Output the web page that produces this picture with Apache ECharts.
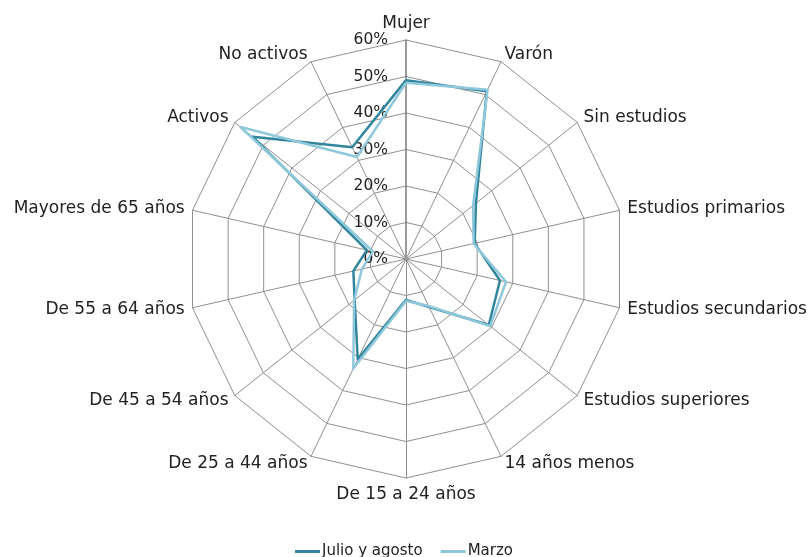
<!DOCTYPE html>
<html>
<head>
<meta charset="utf-8">
<script src="https://cdn.jsdelivr.net/npm/echarts@6/dist/echarts.min.js"></script>
<style>
  html, body { margin: 0; padding: 0; background: #fff; }
  #radar { width: 808px; height: 557px; }
</style>
</head>
<body>
<div id="radar"></div>
<script>
// categories, clockwise from the top
const categories = ['Mujer', 'Varón', 'Sin estudios', 'Estudios primarios', 'Estudios secundarios',
  'Estudios superiores', '14 años menos', 'De 15 a 24 años', 'De 25 a 44 años', 'De 45 a 54 años',
  'De 55 a 64 años', 'Mayores de 65 años', 'Activos', 'No activos']
const julioAgosto = [49, 51, 24.5, 19.3, 26.4, 29, 14.6, 11.2, 30.5, 18, 14.8, 11, 53.7, 34]
const marzo = [48.3, 51.5, 23.5, 19, 28.1, 29.5, 14.3, 11.5, 33.3, 18.2, 12.4, 9.3, 58, 31]
const seriesNames = ['Julio y agosto', 'Marzo']

// echarts places indicators counter-clockwise, so keep the first one and reverse the rest
const order = [0]
for (let i = categories.length - 1; i > 0; i--) order.push(i)
const pick = arr => order.map(i => arr[i])

const font = 'DejaVu Sans'
const gridColor = '#8f8f8f'

const indicator = pick(categories).map((name, k) => {
  const ind = { name: name, min: 0, max: 60 }
  if (k === 0) {
    // only the vertical axis shows the value labels
    ind.axisLabel = {
      show: true, fontFamily: font, fontSize: 15.5, color: '#222',
      formatter: '{value}%', margin: 18
    }
    ind.axisLine = { lineStyle: { color: '#7a7a7a', width: 1.5 } }
  }
  return ind
})

const option = {
  animation: false,
  legend: {
    top: 539,
    left: 'center',
    icon: 'rect',
    itemWidth: 25,
    itemHeight: 3,
    itemGap: 18,
    textStyle: { fontFamily: font, fontSize: 15, color: '#222', padding: [0, 0, 0, -3] },
    data: seriesNames
  },
  radar: {
    center: ['50.25%', '46.5%'],
    radius: 219,
    startAngle: 90,
    shape: 'polygon',
    splitNumber: 6,
    nameGap: 8,
    axisName: { fontFamily: font, fontSize: 17, color: '#222' },
    axisLine: { lineStyle: { color: gridColor, width: 1 } },
    splitLine: { lineStyle: { color: gridColor, width: 1 } },
    splitArea: { show: false },
    axisTick: { show: false },
    axisLabel: { show: false },
    indicator: indicator
  },
  series: [{
    type: 'radar',
    symbol: 'none',
    data: [
      {
        name: seriesNames[0],
        value: pick(julioAgosto),
        lineStyle: { color: '#31859c', width: 2.5 },
        itemStyle: { color: '#31859c' }
      },
      {
        name: seriesNames[1],
        value: pick(marzo),
        lineStyle: { color: '#8ec8da', width: 2.5 },
        itemStyle: { color: '#8ec8da' }
      }
    ]
  }]
}

const chart = echarts.init(document.getElementById('radar'))
chart.setOption(option)
</script>
</body>
</html>
